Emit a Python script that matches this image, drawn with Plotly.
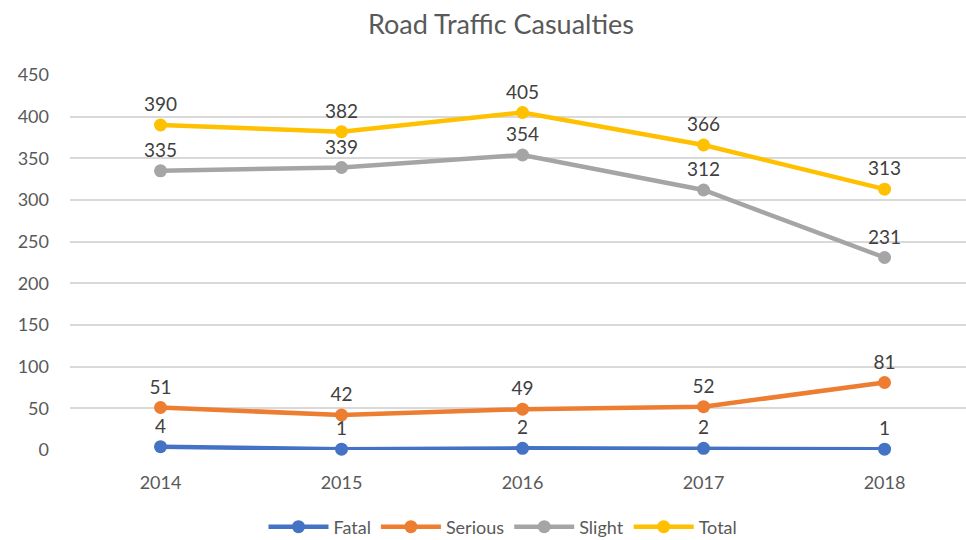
import plotly.graph_objects as go

years = ["2014", "2015", "2016", "2017", "2018"]
fatal = [4, 1, 2, 2, 1]
serious = [51, 42, 49, 52, 81]
slight = [335, 339, 354, 312, 231]
total = [390, 382, 405, 366, 313]

series = [
    ("Fatal", fatal, "#4472C4"),
    ("Serious", serious, "#ED7D31"),
    ("Slight", slight, "#A5A5A5"),
    ("Total", total, "#FFC000"),
]

FONT = "Lato, Open Sans, sans-serif"

fig = go.Figure()
for name, vals, col in series:
    fig.add_trace(go.Scatter(
        x=years, y=vals, name=name, mode="lines+markers+text",
        line=dict(color=col, width=4.5),
        marker=dict(color=col, size=13),
        text=[str(v) for v in vals], textposition="top center",
        textfont=dict(family=FONT, size=19, color="#404040"),
        cliponaxis=False,
    ))

fig.update_layout(
    width=966, height=540,
    margin=dict(l=70, r=0, t=75, b=90, autoexpand=False),
    paper_bgcolor="white", plot_bgcolor="white",
    title=dict(text="Road Traffic Casualties", x=501 / 966, xanchor="center",
               y=1 - 25 / 540, yanchor="middle",
               font=dict(family=FONT, size=27, color="#595959")),
    font=dict(family=FONT, color="#595959"),
    showlegend=True,
    legend=dict(orientation="h", x=(503 - 70) / 896, xanchor="center",
                y=-(527 - 450) / 375, yanchor="middle",
                font=dict(family=FONT, size=18, color="#595959"),
                itemwidth=60, traceorder="normal"),
    xaxis=dict(type="category", range=[-0.5, 4.45], showgrid=False,
               showline=False, zeroline=False, ticks="",
               tickfont=dict(family=FONT, size=18, color="#595959"),
               ticklabelstandoff=20),
    yaxis=dict(range=[0, 450], dtick=50, showgrid=True, gridcolor="#D9D9D9",
               gridwidth=1.5, zeroline=False, showline=False, ticks="",
               tickfont=dict(family=FONT, size=18, color="#595959"),
               ticklabelstandoff=20),
)

fig.write_html("out.html", config={"displayModeBar": False},
               post_script="document.body.style.margin='0px';document.body.style.overflow='hidden';")
